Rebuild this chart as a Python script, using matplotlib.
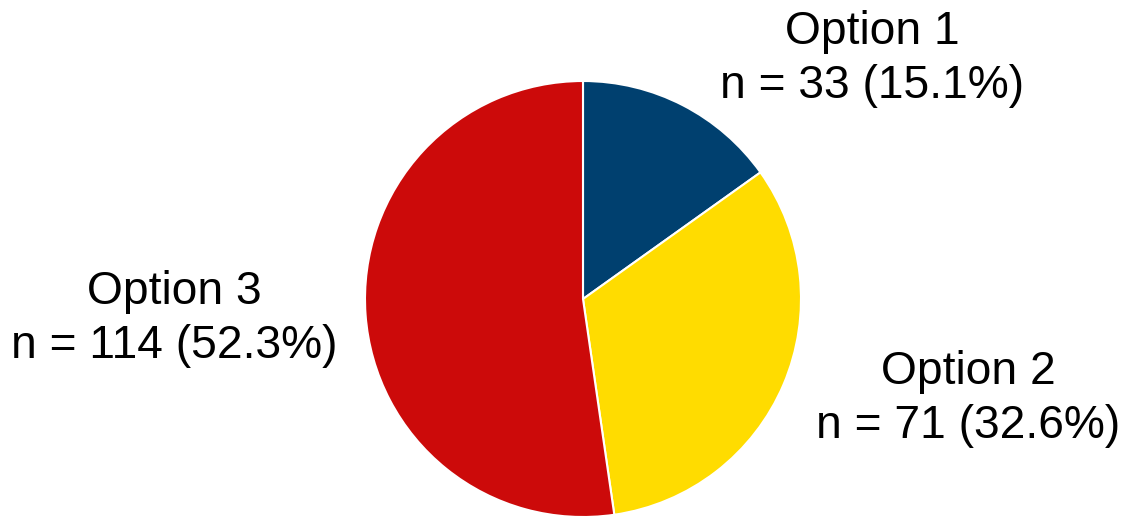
import matplotlib.pyplot as plt

# Data
labels = ['Option 1', 'Option 2', 'Option 3']
counts = [33, 71, 114]
colors = ['#00406F', '#FFDC00', '#CC0A0A']

total = sum(counts)
plt.rcParams['font.family'] = ['Liberation Sans', 'DejaVu Sans']

fig = plt.figure(figsize=(11.3, 5.19), dpi=100)
ax = fig.add_axes([0, 0, 1, 1])
ax.set_xlim(0, 1130)
ax.set_ylim(0, 519)
ax.set_aspect('equal')
ax.axis('off')

ax.pie(counts, colors=colors, startangle=90, counterclock=False,
       center=(583, 220), radius=218,
       wedgeprops=dict(edgecolor='white', linewidth=1.5))
ax.set_xlim(0, 1130)
ax.set_ylim(0, 519)

# label positions (pixels, y from bottom)
label_pos = [(872, 460), (968, 120), (174, 200)]
for lab, n, (x, y) in zip(labels, counts, label_pos):
    pct = 100 * n / total
    ax.text(x, y, f'{lab}\nn = {n} ({pct:.1f}%)', ha='center', va='center',
            fontsize=33.2, linespacing=1.28, color='black')

plt.savefig('out.png', dpi=100)
